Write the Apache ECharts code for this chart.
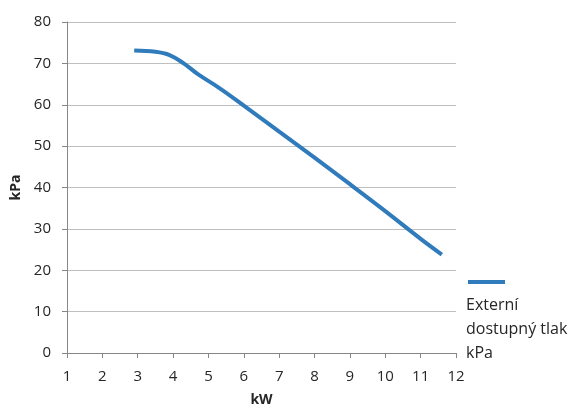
<!DOCTYPE html>
<html>
<head>
<meta charset="utf-8">
<script src="https://cdn.jsdelivr.net/npm/echarts@6/dist/echarts.min.js"></script>
<style>
    html, body { margin: 0; padding: 0; background: #ffffff; }
    #chart { width: 583px; height: 406px; }
</style>
</head>
<body>
<div id="chart"></div>
<script>
    // výkon (kW) a externí dostupný tlak (kPa)
    const seriesName = 'Externí\ndostupný tlak\nkPa'
    const kw = [2.9, 3.5, 3.9, 4.3, 4.7, 5.3, 6, 7, 8, 9, 10, 11, 11.6]
    const kpa = [73.1, 72.8, 72.0, 70.0, 67.4, 64.1, 59.8, 53.5, 47.2, 40.8, 34.3, 27.6, 23.8]

    let points = kw.map(function (x, i) { return [x, kpa[i]] })
    let font = '"Open Sans", sans-serif'

    let chart = echarts.init(document.getElementById('chart'))
    chart.setOption({
        animation: false,
        grid: { left: 67, right: 127, top: 22, bottom: 53, outerBoundsMode: 'none', containLabel: false },
        legend: {
            left: 463, top: 275,
            icon: 'rect', itemWidth: 37, itemHeight: 4,
            formatter: function () { return '' },
            data: [seriesName]
        },
        graphic: [{
            type: 'text', left: 466, top: 293,
            style: { text: seriesName, font: '16px ' + font, fill: '#262626', lineHeight: 24 }
        }],
        xAxis: {
            type: 'value', min: 1, max: 12, interval: 1,
            name: 'kW', nameLocation: 'middle', nameGap: 40,
            nameTextStyle: { fontFamily: font, fontSize: 14, fontWeight: 'bold', color: '#262626' },
            axisLine: { lineStyle: { color: '#868686' } },
            axisTick: { show: true, length: 5, lineStyle: { color: '#868686' } },
            axisLabel: { fontFamily: font, fontSize: 15, color: '#262626', margin: 16 },
            splitLine: { show: false }
        },
        yAxis: {
            type: 'value', min: 0, max: 80, interval: 10,
            name: 'kPa', nameLocation: 'middle', nameGap: 44,
            nameTextStyle: { fontFamily: font, fontSize: 14, fontWeight: 'bold', color: '#262626' },
            axisLine: { show: true, lineStyle: { color: '#868686' } },
            axisTick: { show: true, length: 5, lineStyle: { color: '#868686' } },
            axisLabel: { fontFamily: font, fontSize: 15, color: '#262626', margin: 16 },
            splitLine: { lineStyle: { color: '#bfbfbf' } }
        },
        series: [{
            name: seriesName,
            type: 'line',
            data: points,
            smooth: 0.4,
            showSymbol: false,
            symbol: 'none',
            color: '#2f7bbb',
            lineStyle: { width: 4, color: '#2f7bbb' }
        }]
    })
</script>
</body>
</html>
